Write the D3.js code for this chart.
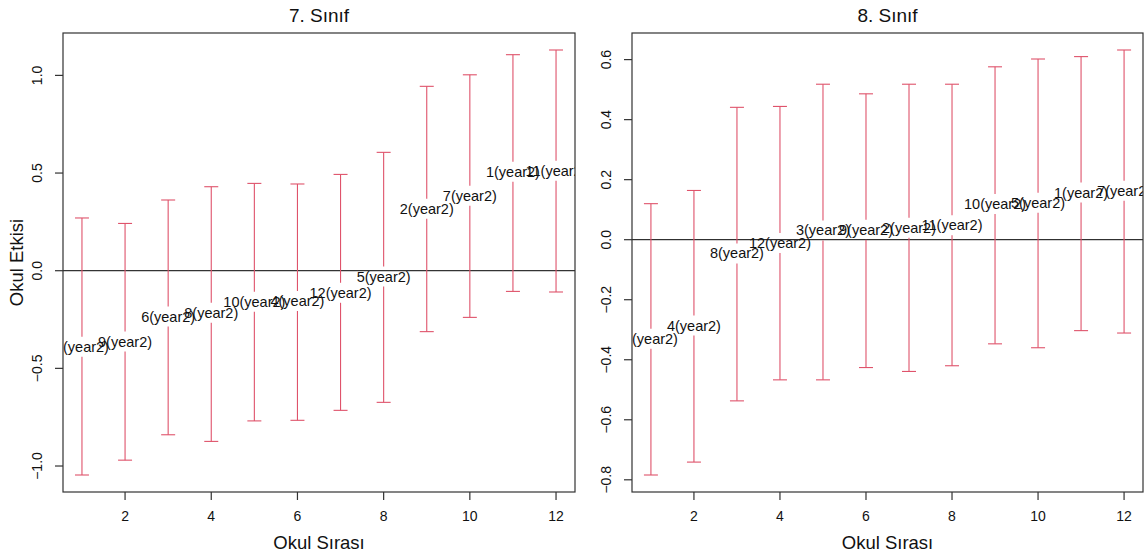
<!DOCTYPE html>
<html>
<head>
<meta charset="utf-8">
<script src="https://cdn.jsdelivr.net/npm/d3@7"></script>
<style>
  body { margin: 0; background: #fff; }
  svg { display: block; font-family: "Liberation Sans", Arial, sans-serif; }
</style>
</head>
<body>
<svg id="chart" width="1146" height="555"></svg>
<script>
// 7. sinif
const labels7 = ["3(year2)", "9(year2)", "6(year2)", "8(year2)", "10(year2)", "4(year2)",
                 "12(year2)", "5(year2)", "2(year2)", "7(year2)", "1(year2)", "11(year2)"];
const est7 = [-0.389, -0.363, -0.235, -0.215, -0.159, -0.155, -0.113, -0.03, 0.317, 0.384, 0.507, 0.512];
const lo7  = [-1.046, -0.97, -0.84, -0.874, -0.769, -0.766, -0.715, -0.674, -0.312, -0.239, -0.106, -0.109];
const hi7  = [0.27, 0.242, 0.362, 0.43, 0.447, 0.444, 0.493, 0.606, 0.944, 1.003, 1.106, 1.13];

// 8. sinif
const labels8 = ["6(year2)", "4(year2)", "8(year2)", "12(year2)", "3(year2)", "9(year2)",
                 "2(year2)", "11(year2)", "10(year2)", "5(year2)", "1(year2)", "7(year2)"];
const est8 = [-0.33, -0.286, -0.046, -0.011, 0.031, 0.033, 0.04, 0.048, 0.119, 0.123, 0.157, 0.163];
const lo8  = [-0.784, -0.741, -0.537, -0.467, -0.467, -0.426, -0.439, -0.42, -0.347, -0.36, -0.303, -0.311];
const hi8  = [0.12, 0.164, 0.441, 0.444, 0.518, 0.486, 0.518, 0.518, 0.576, 0.602, 0.61, 0.632];

const xTicks = [2, 4, 6, 8, 10, 12];
const yTicks7 = [-1, -0.5, 0, 0.5, 1];
const yTicks8 = [-0.8, -0.6, -0.4, -0.2, 0, 0.2, 0.4, 0.6];

const svg = d3.select('#chart');
const barColor = '#DF536B';
const fmt = d => d3.format('.1f')(d).replace('-', '\u2212');

function drawPanel(id, title, labels, est, lo, hi, yTicks, left, right, yTitle) {
  const top = 33, bottom = 492;
  const n = est.length;
  const xs = d3.range(1, n + 1);
  // R style 4% axis extension
  const xr = [1 - (n - 1) * 0.04, n + (n - 1) * 0.04];
  const ymin = d3.min(lo), ymax = d3.max(hi), ext = (ymax - ymin) * 0.04;
  const x = d3.scaleLinear().domain(xr).range([left, right]);
  const y = d3.scaleLinear().domain([ymin - ext, ymax + ext]).range([bottom, top]);

  const g = svg.append('g');
  g.append('clipPath').attr('id', 'clip' + id)
    .append('rect').attr('x', left).attr('y', top).attr('width', right - left).attr('height', bottom - top);

  const plot = g.append('g').attr('clip-path', `url(#clip${id})`);

  // zero line
  plot.append('line')
    .attr('x1', left).attr('x2', right)
    .attr('y1', y(0)).attr('y2', y(0))
    .attr('stroke', '#000').attr('stroke-width', 1);

  const gap = 10, cap = 7;
  const bars = plot.selectAll('g.bar').data(xs).enter().append('g').attr('class', 'bar')
    .attr('stroke', barColor).attr('stroke-width', 1.1);
  bars.append('line')
    .attr('x1', d => x(d)).attr('x2', d => x(d))
    .attr('y1', (d, i) => y(hi[i])).attr('y2', (d, i) => y(est[i]) - gap);
  bars.append('line')
    .attr('x1', d => x(d)).attr('x2', d => x(d))
    .attr('y1', (d, i) => y(est[i]) + gap).attr('y2', (d, i) => y(lo[i]));
  bars.append('line')
    .attr('x1', d => x(d) - cap).attr('x2', d => x(d) + cap)
    .attr('y1', (d, i) => y(hi[i])).attr('y2', (d, i) => y(hi[i]));
  bars.append('line')
    .attr('x1', d => x(d) - cap).attr('x2', d => x(d) + cap)
    .attr('y1', (d, i) => y(lo[i])).attr('y2', (d, i) => y(lo[i]));

  plot.selectAll('text.lab').data(xs).enter().append('text').attr('class', 'lab')
    .attr('x', d => x(d)).attr('y', (d, i) => y(est[i]))
    .attr('text-anchor', 'middle').attr('dominant-baseline', 'central')
    .attr('font-size', 14.5).attr('fill', '#111')
    .text((d, i) => labels[i]);

  // box
  g.append('rect')
    .attr('x', left).attr('y', top).attr('width', right - left).attr('height', bottom - top)
    .attr('fill', 'none').attr('stroke', '#333').attr('stroke-width', 1.2);

  // x axis
  const xa = g.append('g');
  xa.selectAll('line').data(xTicks).enter().append('line')
    .attr('x1', d => x(d)).attr('x2', d => x(d))
    .attr('y1', bottom).attr('y2', bottom + 8)
    .attr('stroke', '#333').attr('stroke-width', 1.2);
  xa.selectAll('text').data(xTicks).enter().append('text')
    .attr('x', d => x(d)).attr('y', bottom + 29)
    .attr('text-anchor', 'middle').attr('font-size', 14).attr('fill', '#111')
    .text(d => d);

  // y axis
  const ya = g.append('g');
  ya.selectAll('line').data(yTicks).enter().append('line')
    .attr('x1', left - 8).attr('x2', left)
    .attr('y1', d => y(d)).attr('y2', d => y(d))
    .attr('stroke', '#333').attr('stroke-width', 1.2);
  ya.selectAll('text').data(yTicks).enter().append('text')
    .attr('transform', d => `translate(${left - 21},${y(d)}) rotate(-90)`)
    .attr('text-anchor', 'middle').attr('font-size', 14).attr('fill', '#111')
    .text(d => fmt(d));

  // titles
  g.append('text')
    .attr('x', (left + right) / 2).attr('y', 22)
    .attr('text-anchor', 'middle').attr('font-size', 19).attr('fill', '#111')
    .text(title);
  g.append('text')
    .attr('x', (left + right) / 2).attr('y', 549)
    .attr('text-anchor', 'middle').attr('font-size', 18.5).attr('fill', '#111')
    .text('Okul Sırası');
  if (yTitle) {
    g.append('text')
      .attr('transform', `translate(${left - 40},${(top + bottom) / 2}) rotate(-90)`)
      .attr('text-anchor', 'middle').attr('font-size', 18.5).attr('fill', '#111')
      .text(yTitle);
  }
}

drawPanel('a', '7. Sınıf', labels7, est7, lo7, hi7, yTicks7, 63, 575, 'Okul Etkisi');
drawPanel('b', '8. Sınıf', labels8, est8, lo8, hi8, yTicks8, 632, 1143, null);
</script>
</body>
</html>
